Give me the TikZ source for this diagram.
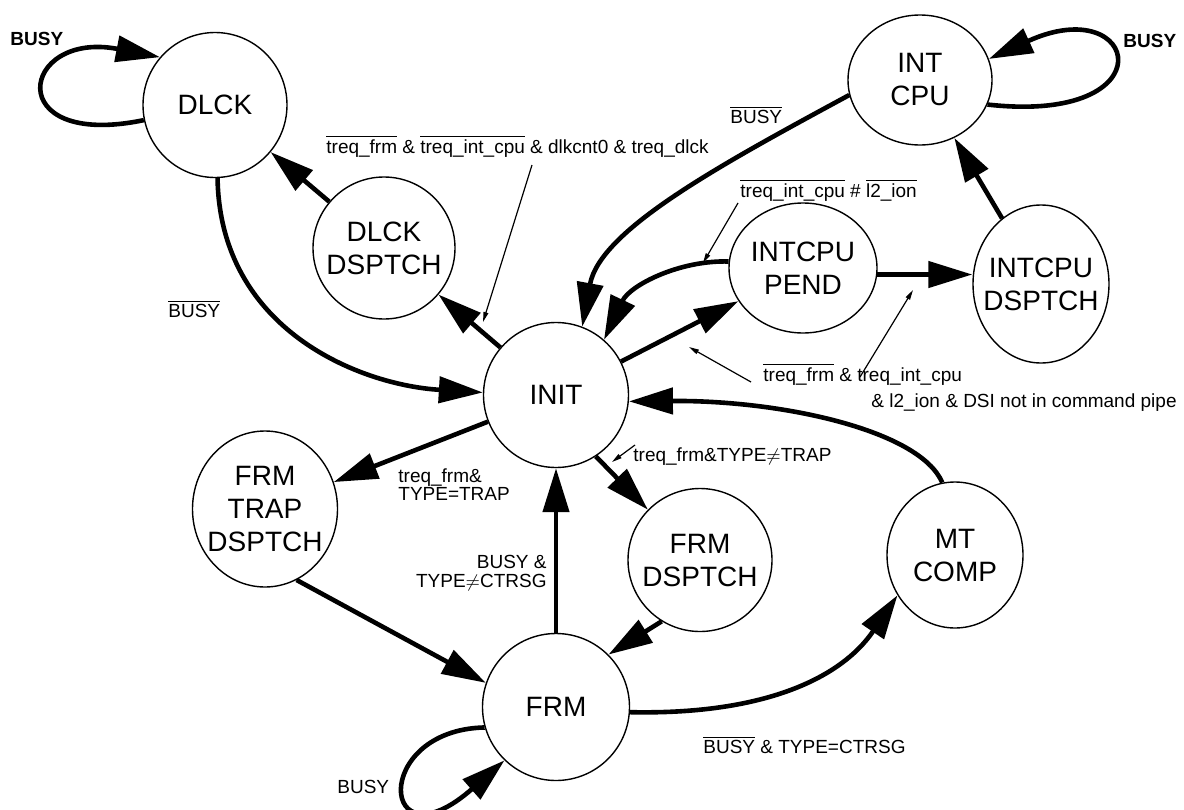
\documentclass[tikz,border=0pt]{standalone}
\usepackage{fontspec}
\setmainfont{Liberation Sans}
\usetikzlibrary{arrows.meta,shapes.geometric}
\newcommand{\ovl}[1]{$\overline{\mbox{#1}}$}

\begin{document}
\begin{tikzpicture}[x=0.5pt,y=-0.5pt,
  state/.style={ellipse,draw,line width=0.7pt,inner sep=-30pt,
    font=\fontsize{14}{16.5}\selectfont,align=center},
  sz/.style 2 args={minimum width=#1*0.5pt,minimum height=#2*0.5pt},
  trans/.style={line width=2.3pt,-{Triangle[length=22pt,width=13pt]}},
  ptr/.style={line width=0.6pt,-{Triangle[length=5pt,width=2.4pt]}},
  lbl/.style={font=\fontsize{9.5}{9.3}\selectfont,inner sep=0pt,align=left},
  lblr/.style={font=\fontsize{9.5}{9.3}\selectfont,inner sep=0pt,align=right},
  lblb/.style={font=\fontsize{9.5}{9.3}\selectfont\bfseries,inner sep=0pt},
]
\useasboundingbox (0,0) rectangle (1184,809);

% states
\node[state,sz={144}{145}] (dlck) at (215,105) {DLCK};
\node[state,sz={142}{142}] (dd)   at (384,248) {DLCK\\DSPTCH};
\node[state,sz={144}{130}] (int)  at (920,80)  {INT\\CPU};
\node[state,sz={148}{130}] (pend) at (803,268) {INTCPU\\PEND};
\node[state,sz={136}{158}] (idsp) at (1041,284) {INTCPU\\DSPTCH};
\node[state,sz={145}{145}] (init) at (556,395) {INIT};
\node[state,sz={145}{156}] (ftd)  at (265,509) {FRM\\TRAP\\DSPTCH};
\node[state,sz={147}{147}] (frm)  at (556,707) {FRM};
\node[state,sz={144}{143}] (fd)   at (700,560) {FRM\\DSPTCH};
\node[state,sz={136}{146}] (mt)   at (955,555) {MT\\COMP};

% transitions
\draw[trans] (dlck.192) .. controls (0,150) and (20,30) .. (dlck.139);
\draw[trans] (dlck.-88) .. controls (220,330) and (360,385) .. (init.178);
\draw[trans] (dd) -- (dlck);
\draw[trans] (init) -- (dd);
\draw[trans] (int.-20) .. controls (1170,125) and (1140,-10) .. (int.17);
\draw[trans] (int.192) .. controls (720,165) and (600,230) .. (init.69);
\draw[trans] (pend.175) .. controls (680,260) and (630,285) .. (init.49);
\draw[trans] (init) -- (pend);
\draw[trans] (pend.-5) -- (pend.-5 -| idsp.west);
\draw[trans] (idsp) -- (int);
\draw[trans] (mt.100) .. controls (920,430) and (780,400) .. (init.-5);
\draw[trans] (frm.-4) .. controls (760,715) and (840,680) .. (mt.215);
\draw[trans] (init) -- (ftd);
\draw[trans] (ftd.-66) -- (frm.161);
\draw[trans] (frm.north) -- (init.south);
\draw[trans] (init.-57) -- (fd.136);
\draw[trans] (fd.-122) -- (frm.45);
\draw[trans] (frm.196) .. controls (370,730) and (380,870) .. (frm.226);

% transition conditions
\node[lblb,anchor=base west] (l1) at (10,45) {BUSY};
\node[lbl,anchor=base west] (l2) at (168,317) {\ovl{BUSY}};
\node[lbl,anchor=base west] (l3) at (326,153)
  {\ovl{treq\_frm} \& \ovl{treq\_int\_cpu} \& dlkcnt0 \& treq\_dlck};
\node[lbl,anchor=base west] (l4) at (730,123) {\ovl{BUSY}};
\node[lblb,anchor=base west] (l5) at (1123,47) {BUSY};
\node[lbl,anchor=base west] (l6) at (740,197) {\ovl{treq\_int\_cpu} \# \ovl{l2\_ion}};
\node[lbl,anchor=base west] (l7) at (763,381) {\ovl{treq\_frm} \& treq\_int\_cpu};
\node[lbl,anchor=base west] (l8) at (871,407) {\& l2\_ion \& DSI not in command pipe};
\node[lbl,anchor=base west] (l9) at (398,482) {treq\_frm\&};
\node[lbl,anchor=base west] (l10) at (398,500) {TYPE=TRAP};
\node[lbl,anchor=base west] (l11) at (633,461) {treq\_frm\&TYPE$\neq$TRAP};
\node[lblr,anchor=base east] (l12) at (547,568) {BUSY \&};
\node[lblr,anchor=base east] (l13) at (547,587) {TYPE$\neq$CTRSG};
\node[lbl,anchor=base west] (l14) at (337,793) {BUSY};
\node[lbl,anchor=base west] (l15) at (703,753) {\ovl{BUSY} \& TYPE=CTRSG};

% pointers from conditions to their transitions
\coordinate (p3a) at (532,165);  \coordinate (p3b) at (483,322);
\coordinate (p6a) at (738,203);  \coordinate (p6b) at (703,263);
\coordinate (p7a) at (751,382);  \coordinate (p7b) at (689,347);
\coordinate (p8a) at (860,377);  \coordinate (p8b) at (913,290);
\coordinate (p11a) at (635,445); \coordinate (p11b) at (612,462);
\draw[ptr] (p3a) -- (p3b);
\draw[ptr] (p6a) -- (p6b);
\draw[ptr] (p7a) -- (p7b);
\draw[ptr] (p8a) -- (p8b);
\draw[ptr] (p11a) -- (p11b);
\end{tikzpicture}
\end{document}
